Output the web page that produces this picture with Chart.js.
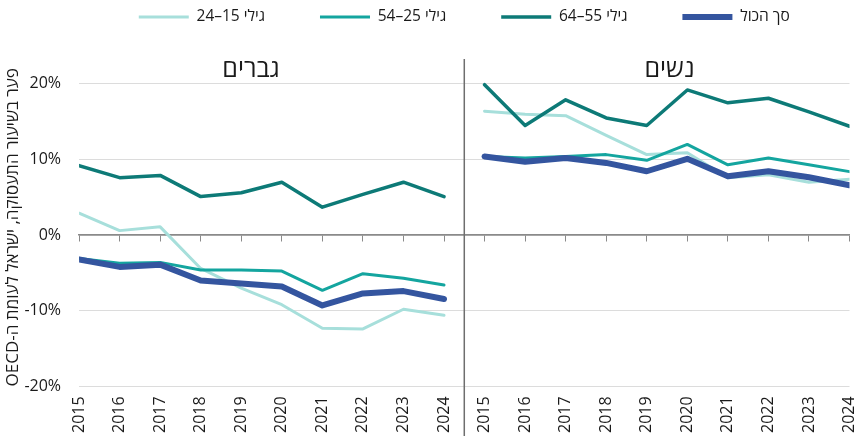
<!DOCTYPE html>
<html lang="he">
<head>
<meta charset="utf-8">
<script src="https://cdn.jsdelivr.net/npm/chart.js@4"></script>
<style>
  body { margin: 0; background: #fff; }
</style>
</head>
<body>
<canvas id="chart" width="859" height="436"></canvas>
<script>
const years = ['2015', '2016', '2017', '2018', '2019', '2020', '2021', '2022', '2023', '2024'];
const panelTitles = ['גברים', 'נשים'];
const seriesLabels = ['גילי 15–24', 'גילי 25–54', 'גילי 55–64', 'סך הכול'];
const yTicks = [-20, -10, 0, 10, 20];

// gap vs OECD, percentage points
const men15_24 = [2.9, 0.6, 1.1, -4.4, -7.0, -9.2, -12.3, -12.4, -9.8, -10.6];
const men25_54 = [-3.1, -3.7, -3.6, -4.6, -4.6, -4.75, -7.3, -5.1, -5.7, -6.6];
const men55_64 = [9.2, 7.6, 7.9, 5.1, 5.6, 7.0, 3.7, 5.4, 7.0, 5.1];
const menTotal = [-3.2, -4.2, -3.9, -6.0, -6.4, -6.8, -9.3, -7.7, -7.4, -8.45];
const women15_24 = [16.4, 16.0, 15.8, 13.2, 10.65, 10.9, 7.6, 8.0, 7.0, 7.4];
const women25_54 = [10.4, 10.2, 10.4, 10.65, 9.9, 12.0, 9.3, 10.2, 9.3, 8.4];
const women55_64 = [19.9, 14.5, 17.9, 15.5, 14.5, 19.2, 17.5, 18.1, 16.3, 14.4];
const womenTotal = [10.4, 9.7, 10.2, 9.55, 8.45, 10.1, 7.8, 8.45, 7.65, 6.6];

const colors = ['#a7dfdb', '#14a59f', '#0d7a77', '#34559f'];
const widths = [3, 3, 3.5, 6];
const FONT = "'Open Sans', 'DejaVu Sans', sans-serif";
const rtl = (s) => '\u202B' + s + '\u202C';

// men on x = 0..9, women on x = 10..19, a null in between breaks the line
function panelPoints(men, women) {
    const pts = men.map((v, i) => ({ x: i, y: v }));
    pts.push({ x: men.length - 0.5, y: null });
    women.forEach((v, i) => pts.push({ x: men.length + i, y: v }));
    return pts;
}

const series = [
    panelPoints(men15_24, women15_24),
    panelPoints(men25_54, women25_54),
    panelPoints(men55_64, women55_64),
    panelPoints(menTotal, womenTotal)
];

const panelsPlugin = {
    id: 'panels',
    beforeDatasetsDraw(chart) {
        const { ctx, scales: { x, y } } = chart;
        const mid = x.getPixelForValue(years.length - 0.5);
        ctx.save();
        ctx.strokeStyle = '#6e6e6e';
        ctx.lineWidth = 1.5;
        ctx.beginPath();
        ctx.moveTo(mid, y.getPixelForValue(23.3));
        ctx.lineTo(mid, chart.height);
        ctx.stroke();
        ctx.fillStyle = '#1a1a1a';
        ctx.font = `25px ${FONT}`;
        ctx.textAlign = 'center';
        ctx.textBaseline = 'middle';
        ctx.fillText(panelTitles[0], x.getPixelForValue(4.24), y.getPixelForValue(21.9));
        ctx.fillText(panelTitles[1], x.getPixelForValue(14.56), y.getPixelForValue(21.9));
        ctx.restore();
    }
};

new Chart(document.getElementById('chart'), {
    type: 'line',
    data: {
        datasets: series.map((data, i) => ({
            label: rtl(seriesLabels[i]),
            data: data,
            borderColor: colors[i],
            backgroundColor: colors[i],
            borderWidth: widths[i],
            borderCapStyle: 'round',
            borderJoinStyle: 'round',
            pointRadius: 0,
            tension: 0,
            order: series.length - i
        }))
    },
    options: {
        responsive: false,
        animation: false,
        layout: { padding: { top: -45.75, right: 9.5, bottom: 3, left: 0 } },
        plugins: {
            tooltip: { enabled: false },
            legend: {
                position: 'top',
                fullSize: false,
                align: 'center',
                reverse: true,
                labels: {
                    usePointStyle: true,
                    pointStyle: 'line',
                    pointStyleWidth: 50,
                    padding: 55,
                    color: '#1a1a1a',
                    font: { family: FONT, size: 15.5 }
                }
            }
        },
        scales: {
            x: {
                type: 'linear',
                min: 0,
                max: years.length * 2 - 1,
                grid: { display: true, drawOnChartArea: false, drawTicks: true, tickLength: 10, tickColor: 'rgba(0,0,0,0)' },
                border: { display: false },
                ticks: {
                    stepSize: 1,
                    autoSkip: false,
                    minRotation: 90,
                    maxRotation: 90,
                    padding: 0,
                    color: '#1a1a1a',
                    // small lineHeight keeps the last rotated label from eating right-side room
                    font: { family: FONT, size: 16, lineHeight: 0.4 },
                    callback: (v) => years[v % years.length]
                }
            },
            x0: {
                type: 'linear',
                position: { y: 0 },
                min: 0,
                max: years.length * 2 - 1,
                grid: { display: true, drawOnChartArea: false, drawTicks: true, tickLength: 6, color: '#8a8a8a', lineWidth: 1 },
                border: { display: true, color: '#8a8a8a', width: 1.5 },
                ticks: { display: false, stepSize: 1, autoSkip: false }
            },
            y: {
                min: -20,
                max: 26.5,
                afterBuildTicks: (scale) => { scale.ticks = yTicks.map(v => ({ value: v })); },
                grid: {
                    drawTicks: true,
                    tickLength: 18,
                    tickColor: 'rgba(0,0,0,0)',
                    color: (c) => c.tick && c.tick.value === 0 ? '#8a8a8a' : '#dcdcdc',
                    lineWidth: (c) => c.tick && c.tick.value === 0 ? 1.5 : 1
                },
                border: { display: false },
                ticks: {
                    padding: 0,
                    color: '#1a1a1a',
                    font: { family: FONT, size: 16 },
                    callback: (v) => v + '%'
                },
                title: {
                    display: true,
                    align: 'start',
                    text: rtl('פער בשיעור התעסוקה, ישראל לעומת ה-OECD'),
                    color: '#1a1a1a',
                    padding: { top: 3, bottom: 1 },
                    font: { family: FONT, size: 17 }
                }
            }
        }
    },
    plugins: [panelsPlugin]
});
</script>
</body>
</html>
